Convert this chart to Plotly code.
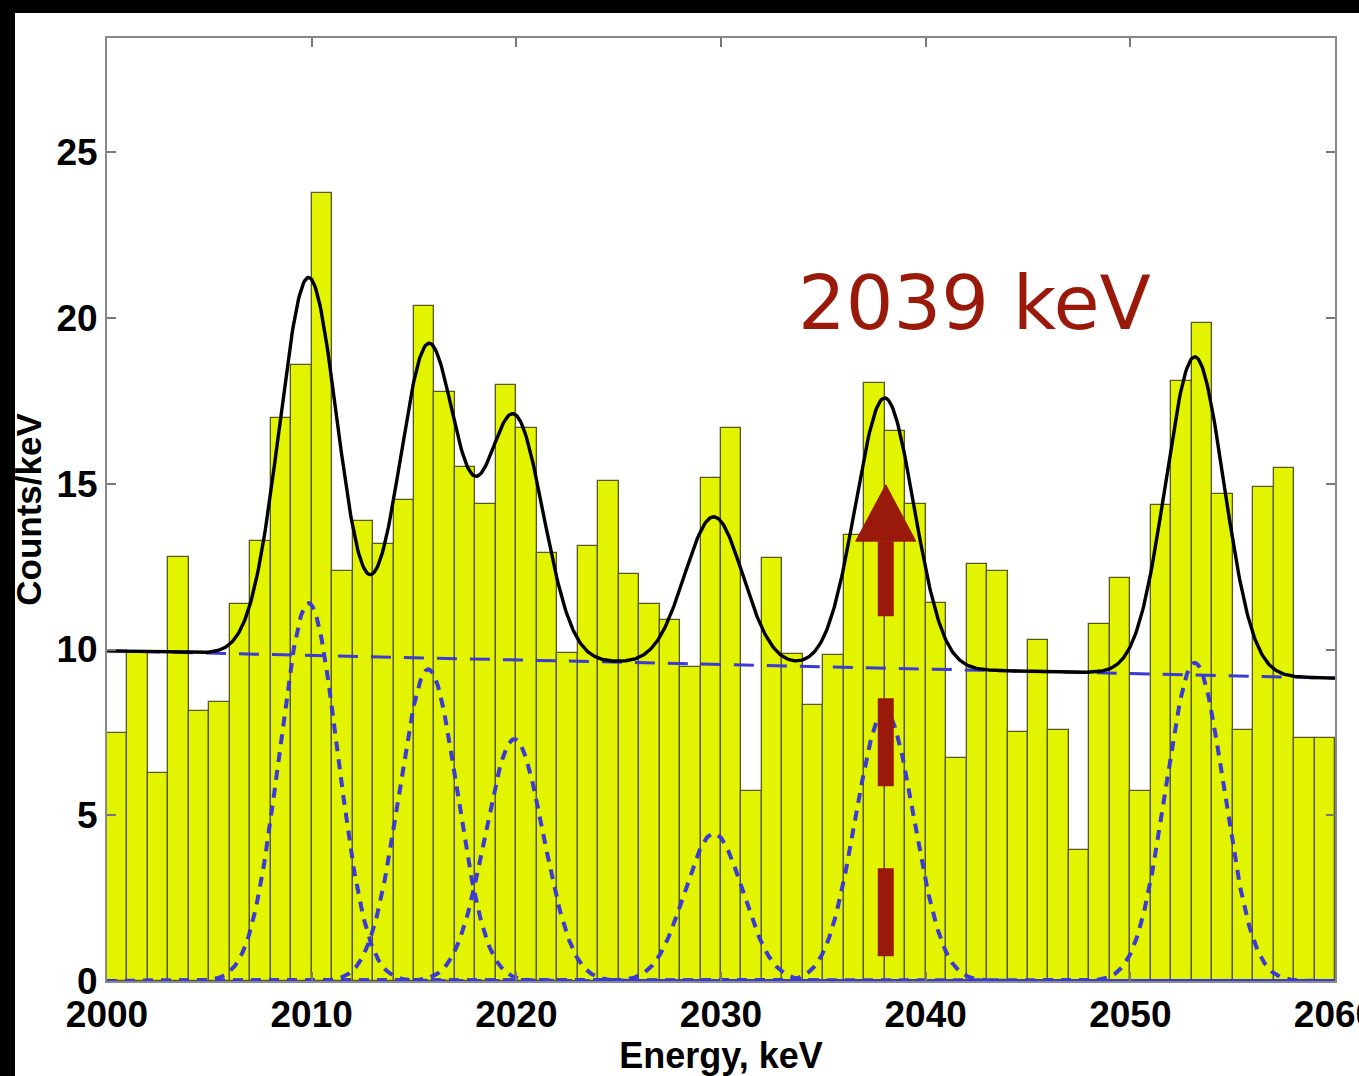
import numpy as np
import plotly.graph_objects as go

# Histogram: counts per 1 keV bin, bins start at 2000 keV
bin_left = list(range(2000, 2060))
counts = [7.49, 9.91, 6.28, 12.79, 8.14, 8.43, 11.38, 13.26, 16.99, 18.57,
          23.78, 12.38, 13.89, 13.19, 14.52, 20.37, 17.78, 15.50, 14.40, 17.98,
          16.68, 12.90, 9.90, 13.11, 15.10, 12.29, 11.38, 10.88, 9.47, 15.18,
          16.68, 5.74, 12.76, 9.86, 8.33, 9.85, 13.47, 18.04, 16.59, 14.40,
          11.41, 6.73, 12.58, 12.37, 7.51, 10.28, 7.57, 3.95, 10.78, 12.16,
          5.73, 14.36, 18.09, 19.85, 14.68, 7.57, 14.89, 15.49, 7.33, 7.33]

# Fit model: linear background plus Gaussian lines
bg_at_2000 = 9.96
bg_slope = -0.0137
peak_centers = [2009.85, 2015.7, 2019.9, 2029.65, 2038.0, 2053.15]
peak_amps = [11.4, 9.4, 7.3, 4.45, 8.15, 9.6]
peak_sigma = 1.42

x_ticks = [2000, 2010, 2020, 2030, 2040, 2050, 2060]
y_ticks = [0, 5, 10, 15, 20, 25]

# Marker for the Q-value region
marker_label = "2039 keV"
arrow_x = 2038.05
arrow_y0, arrow_head_base, arrow_tip = 0.75, 13.27, 14.97
arrow_head_half = 1.47

e = np.linspace(2000, 2060, 1201)
bg = bg_at_2000 + bg_slope * (e - 2000)
gauss = [a * np.exp(-0.5 * ((e - c) / peak_sigma) ** 2)
         for c, a in zip(peak_centers, peak_amps)]
total = bg + np.sum(gauss, axis=0)

BLUE = "#3a3ad8"
RED = "#991a0a"
fig = go.Figure()

fig.add_trace(go.Bar(
    x=bin_left, y=counts, width=1, offset=0,
    marker=dict(color="#e3f400", line=dict(color="#58581f", width=1.3)),
))

for g in gauss:
    fig.add_trace(go.Scatter(x=e, y=g, mode="lines",
                             line=dict(color=BLUE, width=4, dash="10px,8px")))

fig.add_trace(go.Scatter(x=e, y=bg, mode="lines",
                         line=dict(color=BLUE, width=3, dash="20px,13px")))
fig.add_trace(go.Scatter(x=e, y=total, mode="lines",
                         line=dict(color="black", width=3.4)))

# dashed red arrow
fig.add_trace(go.Scatter(x=[arrow_x, arrow_x], y=[arrow_y0, arrow_head_base],
                         mode="lines", line=dict(color=RED, width=16, dash="88px,82px")))
fig.add_trace(go.Scatter(
    x=[arrow_x - arrow_head_half, arrow_x, arrow_x + arrow_head_half, arrow_x - arrow_head_half],
    y=[arrow_head_base, arrow_tip, arrow_head_base, arrow_head_base],
    mode="lines", fill="toself", fillcolor=RED, line=dict(color=RED, width=1)))

fig.add_annotation(x=2042.4, y=20.45, text=marker_label, showarrow=False,
                   font=dict(family="DejaVu Sans", size=75, color=RED))

W, H = 1359, 1076
ml, mr, mt, mb = 107, 24, 38, 95
pw, ph = W - ml - mr, H - mt - mb

def px_x(p):
    return (p - ml) / pw

def px_y(p):
    return (H - mb - p) / ph

# black frame strips at the left and top edges
fig.add_shape(type="rect", xref="paper", yref="paper", layer="below",
              x0=px_x(0), x1=px_x(15), y0=px_y(H), y1=px_y(0),
              fillcolor="black", line=dict(width=0))
fig.add_shape(type="rect", xref="paper", yref="paper", layer="below",
              x0=px_x(0), x1=px_x(W), y0=px_y(13), y1=px_y(0),
              fillcolor="black", line=dict(width=0))

tickfont = dict(family="Liberation Sans", size=37, color="black", weight="bold")
fig.update_layout(
    width=W, height=H, showlegend=False,
    margin=dict(l=ml, r=mr, t=mt, b=mb, pad=0, autoexpand=False),
    paper_bgcolor="white", plot_bgcolor="white",
    bargap=0,
    xaxis=dict(range=[2000, 2060], tickvals=x_ticks, ticks="inside", ticklen=9,
               tickcolor="#777", tickwidth=1.5, showline=True, linecolor="#888",
               linewidth=2, mirror="allticks", showgrid=False, zeroline=False,
               tickfont=tickfont, ticklabeloverflow="allow", automargin=False,
               title=dict(text="Energy, keV", standoff=0,
                          font=dict(family="Liberation Sans", size=36, color="black", weight="bold"))),
    yaxis=dict(range=[0, 28.45], tickvals=y_ticks, ticks="inside", ticklen=9,
               tickcolor="#777", tickwidth=1.5, showline=True, linecolor="#888",
               linewidth=2, mirror="allticks", showgrid=False, zeroline=False,
               tickfont=tickfont, ticklabeloverflow="allow", automargin=False,
               title=dict(text="Counts/keV", standoff=4,
                          font=dict(family="Liberation Sans", size=35, color="black", weight="bold"))),
)

fig.write_html("out.html")
